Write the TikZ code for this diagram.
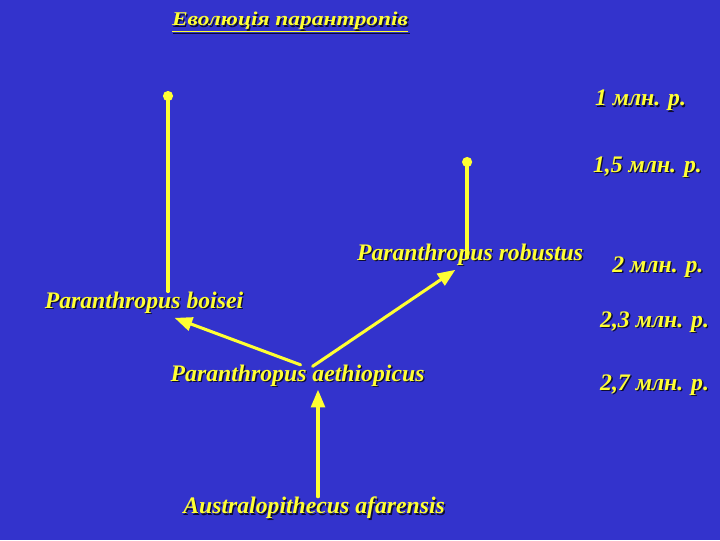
\documentclass[tikz,border=0pt]{standalone}
\usepackage{fontspec}
\setmainfont{Liberation Serif}
\newfontfamily\titlefont[FakeStretch=1.2]{Liberation Serif}
\usetikzlibrary{arrows}
\definecolor{zzzzcc}{rgb}{0.2,0.2,0.8}
\definecolor{ffffqq}{rgb}{1,1,0.2}
\definecolor{qqqqtt}{rgb}{0.05,0.05,0.2}
\newcommand{\shd}[1]{\makebox[0pt][l]{\hspace{1.3pt}\raisebox{-1.3pt}{\color{qqqqtt}#1}}#1}

\begin{document}
\begin{tikzpicture}[line cap=round,line join=round,>=triangle 45,x=1.0cm,y=1.0cm,
  lbl/.style={text=ffffqq,font=\fontsize{22.5}{27}\selectfont\bfseries\itshape,inner sep=0pt},
  yline/.style={color=ffffqq,line width=3.2pt}]
\fill[color=zzzzcc] (0,0) rectangle (24,18);
\useasboundingbox (0,0) rectangle (24,18);
%\draw [color=black,dash pattern=on 1pt off 1pt,step=1.0cm] (0,0) grid (24,18);
\node[lbl,font=\titlefont\bfseries\itshape\fontsize{18.5}{22}\selectfont] (title) at (9.67,17.24) {\shd{\underline{Еволюція парантропів}}};
\node[lbl] (boisei) at (4.8,7.9) {\shd{Paranthropus boisei}};
\node[lbl] (robustus) at (15.67,9.5) {\shd{Paranthropus robustus}};
\node[lbl] (aethiop) at (9.92,5.45) {\shd{Paranthropus aethiopicus}};
\node[lbl] (afar) at (10.47,1.05) {\shd{Australopithecus afarensis}};
\node[lbl] (t1) at (21.35,14.63) {\shd{1 млн. р.}};
\node[lbl] (t15) at (21.58,12.42) {\shd{1,5 млн. р.}};
\node[lbl] (t2) at (21.93,9.08) {\shd{2 млн. р.}};
\node[lbl] (t23) at (21.82,7.25) {\shd{2,3 млн. р.}};
\node[lbl] (t27) at (21.82,5.15) {\shd{2,7 млн. р.}};
\coordinate (dotB) at (5.6,14.8);
\coordinate (dotR) at (15.57,12.6);
\coordinate (headB) at (5.83,7.4);
\coordinate (headR) at (15.17,9.0);
\coordinate (headA) at (10.6,5.0);
\draw [yline] (dotB) -- (dotB |- boisei.north);
\draw [yline] (dotR) -- ([yshift=-0.1cm]dotR |- robustus.center);
\fill [color=ffffqq] (dotB) circle (0.17);
\fill [color=ffffqq] (dotR) circle (0.17);
\draw [yline,line width=2.9pt,->] ([xshift=0.1cm]aethiop.north) -- (headB);
\draw [yline,line width=2.9pt,->] ([xshift=0.5cm,yshift=-0.05cm]aethiop.north) -- (headR);
\draw [yline,line width=2.9pt,->] (afar.north -| headA) -- (headA);
\end{tikzpicture}
\end{document}
